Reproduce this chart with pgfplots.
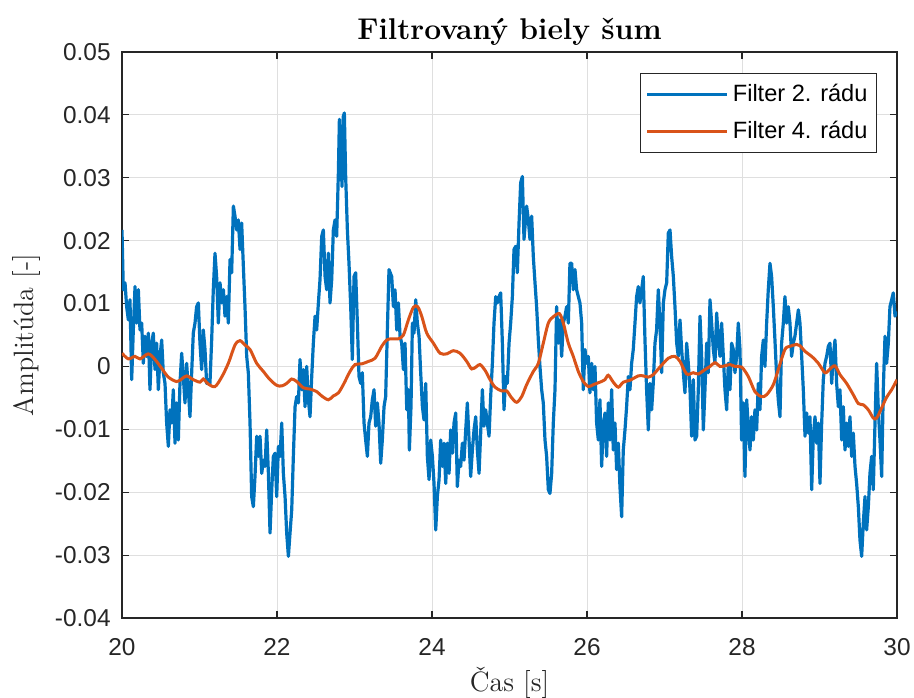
\documentclass[border=0pt]{standalone}
\usepackage{fontspec}
\usepackage{pgfplots}
\usepackage{pgfplotstable}
\pgfplotsset{compat=1.18}
\newfontfamily\helv{Liberation Sans}
\definecolor{mblue}{rgb}{0,0.447,0.741}
\definecolor{morange}{rgb}{0.85,0.325,0.098}
\definecolor{mgrid}{RGB}{223,223,223}
\definecolor{maxis}{RGB}{38,38,38}

\pgfplotstableread{
t y
20.000 0.0217
20.017 0.0122
20.039 0.0133
20.060 0.0095
20.082 0.0074
20.103 0.0106
20.125 -0.0021
20.146 0.0058
20.168 0.0127
20.189 0.0069
20.211 0.0122
20.232 0.0058
20.254 0.0069
20.275 0.0005
20.297 0.0048
20.318 0.0016
20.340 0.0053
20.361 -0.0037
20.383 0.0037
20.404 0.0053
20.426 -0.0005
20.447 0.0037
20.469 -0.0037
20.490 0.0016
20.512 0.0042
20.533 -0.0010
20.555 -0.0027
20.576 -0.0090
20.598 -0.0127
20.619 -0.0069
20.641 -0.0090
20.662 -0.0037
20.684 -0.0122
20.705 -0.0058
20.727 -0.0117
20.748 -0.0027
20.770 0.0021
20.791 -0.0016
20.813 -0.0058
20.834 0.0005
20.856 -0.0037
20.877 -0.0080
20.899 -0.0010
20.920 0.0053
20.942 0.0069
20.963 0.0095
20.985 0.0101
21.006 0.0037
21.028 -0.0005
21.049 0.0058
21.071 0.0027
21.092 -0.0027
21.114 -0.0021
21.135 -0.0027
21.157 0.0042
21.178 0.0122
21.200 0.0180
21.221 0.0143
21.243 0.0069
21.265 0.0133
21.286 0.0101
21.308 0.0122
21.329 0.0080
21.351 0.0111
21.372 0.0069
21.394 0.0170
21.415 0.0149
21.437 0.0255
21.458 0.0239
21.480 0.0217
21.501 0.0233
21.523 0.0186
21.544 0.0228
21.566 0.0159
21.587 0.0095
21.609 0.0016
21.630 -0.0010
21.652 -0.0090
21.673 -0.0207
21.695 -0.0223
21.716 -0.0175
21.738 -0.0111
21.760 -0.0143
21.781 -0.0111
21.803 -0.0170
21.824 -0.0149
21.846 -0.0159
21.867 -0.0101
21.889 -0.0170
21.910 -0.0265
21.932 -0.0196
21.953 -0.0143
21.975 -0.0138
21.996 -0.0207
22.018 -0.0127
22.039 -0.0143
22.061 -0.0090
22.082 -0.0170
22.104 -0.0207
22.125 -0.0265
22.147 -0.0302
22.168 -0.0265
22.190 -0.0228
22.211 -0.0143
22.233 -0.0064
22.254 -0.0048
22.276 -0.0058
22.297 0.0011
22.319 -0.0037
22.340 -0.0005
22.362 -0.0064
22.383 0.0000
22.405 -0.0053
22.426 -0.0080
22.448 -0.0016
22.469 0.0037
22.491 0.0080
22.512 0.0058
22.534 0.0101
22.555 0.0138
22.577 0.0207
22.598 0.0217
22.620 0.0143
22.641 0.0122
22.663 0.0180
22.684 0.0101
22.706 0.0138
22.727 0.0217
22.749 0.0233
22.770 0.0207
22.792 0.0308
22.805 0.0393
22.822 0.0350
22.839 0.0286
22.856 0.0398
22.869 0.0403
22.886 0.0302
22.908 0.0217
22.929 0.0164
22.951 0.0095
22.972 0.0011
22.994 0.0143
23.015 0.0149
23.037 0.0069
23.058 -0.0016
23.080 -0.0027
23.101 -0.0010
23.123 -0.0090
23.144 -0.0117
23.166 -0.0143
23.187 -0.0090
23.209 -0.0080
23.230 -0.0053
23.252 -0.0037
23.273 -0.0095
23.295 -0.0058
23.316 -0.0090
23.338 -0.0154
23.359 -0.0117
23.381 -0.0064
23.402 -0.0048
23.424 0.0058
23.445 0.0154
23.480 0.0143
23.502 0.0095
23.523 0.0122
23.545 0.0058
23.566 0.0101
23.588 0.0048
23.609 0.0037
23.631 -0.0005
23.652 0.0037
23.674 -0.0069
23.695 -0.0037
23.708 -0.0133
23.729 -0.0064
23.747 0.0069
23.768 0.0053
23.790 0.0106
23.811 0.0069
23.833 0.0048
23.854 -0.0010
23.876 -0.0064
23.897 -0.0085
23.919 -0.0027
23.940 -0.0143
23.962 -0.0180
23.983 -0.0117
24.005 -0.0143
24.026 -0.0186
24.048 -0.0260
24.069 -0.0207
24.091 -0.0180
24.112 -0.0117
24.134 -0.0159
24.155 -0.0122
24.177 -0.0186
24.198 -0.0122
24.220 -0.0170
24.241 -0.0101
24.263 -0.0138
24.284 -0.0090
24.306 -0.0074
24.327 -0.0191
24.349 -0.0149
24.370 -0.0159
24.392 -0.0122
24.413 -0.0149
24.435 -0.0101
24.456 -0.0058
24.478 -0.0117
24.499 -0.0175
24.521 -0.0133
24.542 -0.0101
24.564 -0.0080
24.585 -0.0133
24.607 -0.0170
24.628 -0.0106
24.650 -0.0037
24.671 -0.0095
24.693 -0.0069
24.714 -0.0090
24.736 -0.0111
24.757 -0.0048
24.779 0.0005
24.800 0.0069
24.822 0.0111
24.843 0.0101
24.865 0.0111
24.886 0.0117
24.908 0.0037
24.929 -0.0069
24.951 -0.0016
24.972 -0.0027
24.994 0.0037
25.015 0.0069
25.037 0.0111
25.058 0.0186
25.080 0.0191
25.101 0.0149
25.123 0.0228
25.144 0.0292
25.166 0.0302
25.187 0.0202
25.221 0.0255
25.243 0.0233
25.264 0.0202
25.286 0.0239
25.307 0.0175
25.329 0.0133
25.350 0.0095
25.372 0.0042
25.393 0.0000
25.415 -0.0037
25.436 -0.0058
25.458 -0.0117
25.479 -0.0143
25.501 -0.0196
25.522 -0.0202
25.544 -0.0170
25.565 -0.0090
25.587 -0.0037
25.608 0.0095
25.630 0.0037
25.651 0.0074
25.673 0.0016
25.694 0.0069
25.716 0.0080
25.737 0.0095
25.759 0.0069
25.780 0.0164
25.802 0.0164
25.823 0.0122
25.845 0.0154
25.866 0.0122
25.888 0.0111
25.909 0.0101
25.931 0.0069
25.952 -0.0037
25.974 0.0027
25.995 0.0005
26.017 0.0016
26.038 -0.0042
26.060 0.0005
26.081 -0.0037
26.103 0.0000
26.124 -0.0090
26.146 -0.0117
26.167 -0.0053
26.189 -0.0159
26.210 -0.0095
26.232 -0.0074
26.253 -0.0143
26.275 -0.0058
26.296 -0.0117
26.318 -0.0037
26.339 -0.0133
26.361 -0.0090
26.382 -0.0164
26.404 -0.0122
26.425 -0.0191
26.447 -0.0239
26.468 -0.0133
26.490 -0.0101
26.511 -0.0064
26.533 -0.0016
26.554 -0.0037
26.576 0.0005
26.597 0.0027
26.619 0.0069
26.640 0.0111
26.662 0.0127
26.683 0.0101
26.705 0.0122
26.726 0.0143
26.748 0.0042
26.769 -0.0037
26.791 -0.0101
26.812 -0.0027
26.834 -0.0069
26.855 -0.0027
26.877 0.0037
26.898 0.0058
26.920 0.0122
26.941 0.0069
26.963 -0.0010
26.985 0.0101
27.006 0.0122
27.028 0.0133
27.049 0.0212
27.071 0.0217
27.092 0.0175
27.114 0.0143
27.135 0.0095
27.157 0.0037
27.178 0.0016
27.200 0.0074
27.221 0.0027
27.243 -0.0010
27.264 -0.0042
27.286 0.0037
27.307 0.0005
27.329 -0.0037
27.350 -0.0111
27.372 -0.0021
27.393 -0.0117
27.415 -0.0111
27.436 -0.0037
27.458 0.0080
27.479 0.0016
27.501 -0.0101
27.522 -0.0037
27.544 0.0037
27.565 -0.0010
27.587 0.0106
27.608 0.0069
27.630 0.0027
27.651 0.0005
27.673 0.0085
27.694 0.0042
27.716 0.0016
27.737 0.0069
27.759 0.0016
27.780 -0.0037
27.802 -0.0069
27.823 0.0005
27.845 -0.0037
27.866 0.0037
27.888 0.0027
27.909 -0.0010
27.931 0.0016
27.952 0.0069
27.974 0.0027
27.995 -0.0117
28.017 -0.0058
28.038 -0.0175
28.060 -0.0053
28.081 -0.0095
28.103 -0.0133
28.124 -0.0080
28.146 -0.0117
28.167 -0.0069
28.189 -0.0101
28.210 -0.0027
28.232 -0.0069
28.253 0.0016
28.275 0.0042
28.296 0.0000
28.318 0.0069
28.339 0.0122
28.361 0.0164
28.382 0.0143
28.404 0.0095
28.425 0.0042
28.447 -0.0016
28.468 -0.0053
28.490 -0.0080
28.511 0.0037
28.533 0.0069
28.554 0.0111
28.576 0.0069
28.597 0.0095
28.619 0.0069
28.640 0.0016
28.662 0.0037
28.683 0.0048
28.705 0.0069
28.727 0.0090
28.748 0.0069
28.770 0.0016
28.791 -0.0037
28.813 -0.0111
28.834 -0.0074
28.856 -0.0106
28.877 -0.0080
28.899 -0.0196
28.920 -0.0111
28.942 -0.0080
28.963 -0.0122
28.985 -0.0090
29.006 -0.0186
29.028 -0.0090
29.049 -0.0021
29.071 0.0005
29.092 0.0016
29.114 0.0032
29.135 0.0037
29.157 -0.0027
29.178 0.0016
29.200 0.0042
29.221 -0.0027
29.243 -0.0064
29.264 -0.0037
29.286 -0.0117
29.307 -0.0064
29.329 -0.0133
29.350 -0.0090
29.372 -0.0127
29.393 -0.0080
29.415 -0.0143
29.436 -0.0106
29.458 -0.0159
29.479 -0.0186
29.501 -0.0223
29.522 -0.0276
29.544 -0.0302
29.565 -0.0249
29.587 -0.0207
29.608 -0.0260
29.630 -0.0223
29.651 -0.0170
29.673 -0.0143
29.694 -0.0196
29.716 -0.0090
29.737 0.0005
29.759 -0.0069
29.780 -0.0117
29.802 -0.0175
29.823 -0.0037
29.845 0.0048
29.866 0.0005
29.888 0.0037
29.909 0.0095
29.931 0.0106
29.952 0.0117
29.974 0.0080
29.995 0.0085
30.000 0.0080
}\bluedata

\pgfplotstableread{
t y
20.000 0.0021
20.082 0.0012
20.168 0.0016
20.232 0.0012
20.340 0.0020
20.426 0.0011
20.512 -0.0003
20.598 -0.0017
20.705 -0.0024
20.770 -0.0020
20.834 -0.0015
20.920 -0.0021
21.006 -0.0025
21.049 -0.0020
21.114 -0.0028
21.200 -0.0032
21.286 -0.0017
21.372 0.0005
21.458 0.0034
21.523 0.0041
21.587 0.0034
21.652 0.0027
21.738 0.0005
21.824 -0.0008
21.910 -0.0021
21.996 -0.0030
22.061 -0.0031
22.125 -0.0027
22.190 -0.0020
22.254 -0.0024
22.340 -0.0034
22.426 -0.0036
22.512 -0.0040
22.577 -0.0047
22.663 -0.0053
22.727 -0.0047
22.792 -0.0042
22.856 -0.0029
22.942 -0.0008
23.007 0.0003
23.093 0.0004
23.179 0.0008
23.265 0.0013
23.351 0.0032
23.415 0.0042
23.480 0.0044
23.566 0.0044
23.631 0.0050
23.695 0.0074
23.760 0.0094
23.815 0.0095
23.867 0.0080
23.932 0.0053
24.018 0.0037
24.104 0.0021
24.190 0.0020
24.276 0.0025
24.362 0.0021
24.448 0.0008
24.512 -0.0004
24.577 0.0000
24.620 0.0003
24.684 -0.0006
24.749 -0.0021
24.813 -0.0033
24.899 -0.0039
24.964 -0.0039
25.028 -0.0050
25.093 -0.0057
25.157 -0.0048
25.221 -0.0029
25.307 -0.0008
25.372 0.0005
25.436 0.0037
25.501 0.0069
25.565 0.0079
25.643 0.0084
25.694 0.0069
25.759 0.0037
25.823 0.0016
25.888 -0.0008
25.952 -0.0024
26.017 -0.0032
26.081 -0.0029
26.167 -0.0025
26.232 -0.0021
26.275 -0.0014
26.339 -0.0025
26.404 -0.0033
26.468 -0.0025
26.554 -0.0022
26.662 -0.0015
26.726 -0.0015
26.791 -0.0017
26.855 -0.0013
26.941 -0.0001
27.049 0.0013
27.135 0.0016
27.200 0.0008
27.286 -0.0012
27.372 -0.0010
27.436 -0.0012
27.522 -0.0005
27.587 0.0000
27.651 0.0006
27.716 0.0000
27.780 0.0001
27.845 0.0003
27.909 0.0000
27.995 -0.0001
28.081 -0.0016
28.167 -0.0040
28.253 -0.0048
28.318 -0.0045
28.404 -0.0029
28.468 -0.0005
28.554 0.0027
28.619 0.0032
28.705 0.0035
28.748 0.0033
28.813 0.0024
28.899 0.0016
28.985 0.0005
29.071 -0.0010
29.135 -0.0004
29.200 0.0001
29.264 -0.0013
29.350 -0.0027
29.436 -0.0045
29.501 -0.0059
29.565 -0.0061
29.630 -0.0069
29.694 -0.0082
29.737 -0.0082
29.802 -0.0066
29.866 -0.0049
29.931 -0.0037
30.000 -0.0021
}\orangedata

\begin{document}
\begin{tikzpicture}
\begin{axis}[
  scale only axis,
  width=387.5pt, height=283pt,
  xmin=20, xmax=30, ymin=-0.04, ymax=0.05,
  xtick={20,22,24,26,28,30},
  xticklabels={20,22,24,26,28,30},
  ytick={-0.04,-0.03,-0.02,-0.01,0,0.01,0.02,0.03,0.04,0.05},
  yticklabels={-0.04,-0.03,-0.02,-0.01,0,0.01,0.02,0.03,0.04,0.05},
  scaled y ticks=false,
  grid=major,
  major grid style={color=mgrid, line width=0.5pt},
  axis line style={color=maxis, line width=0.6pt},
  tick style={color=maxis, line width=0.6pt},
  major tick length=3.5pt,
  tick align=inside,
  xticklabel style={font=\helv\fontsize{12.2}{14}\selectfont, text=maxis, anchor=base, yshift=-18.75pt},
  yticklabel style={font=\helv\fontsize{12.2}{14}\selectfont, text=maxis, anchor=east, inner sep=0pt, xshift=-5.5pt},
  every axis title shift=0pt,
  title={Filtrovaný biely šum},
  title style={at={(axis description cs:0.5,1.0212)}, anchor=base, font=\fontsize{15}{18}\selectfont\bfseries},
  xlabel={Čas [s]},
  xlabel style={at={(axis description cs:0.5,-0.1307)}, anchor=base, font=\fontsize{14}{17}\selectfont, text=maxis},
  ylabel={Amplitúda [-]},
  ylabel style={at={(axis description cs:-0.1148,0.5)}, anchor=base, font=\fontsize{14}{17}\selectfont, text=maxis},
  legend style={at={(rel axis cs:1,1)}, anchor=north east, xshift=-10pt, yshift=-10.5pt,
    font=\helv\fontsize{11.8}{14}\selectfont, draw=maxis, line width=0.5pt,
    inner xsep=2.5pt, inner ysep=3.5pt, row sep=4pt,
    nodes={inner sep=2pt}},
  legend cell align=left,
  legend image code/.code={\draw[#1, line width=1.5pt] (0pt,0pt) -- (40pt,0pt);},
]
\addplot[color=mblue, line width=1.6pt, line join=round] table[x=t, y=y] {\bluedata};
\addlegendentry{Filter 2. rádu}
\addplot[color=morange, line width=1.5pt, smooth, tension=0.5] table[x=t, y=y] {\orangedata};
\addlegendentry{Filter 4. rádu}
\end{axis}
\pgfresetboundingbox
\path[use as bounding box] ([shift={(-61pt,-40pt)}]current axis.south west) rectangle ([shift={(8.5pt,26pt)}]current axis.north east);
\end{tikzpicture}
\end{document}
